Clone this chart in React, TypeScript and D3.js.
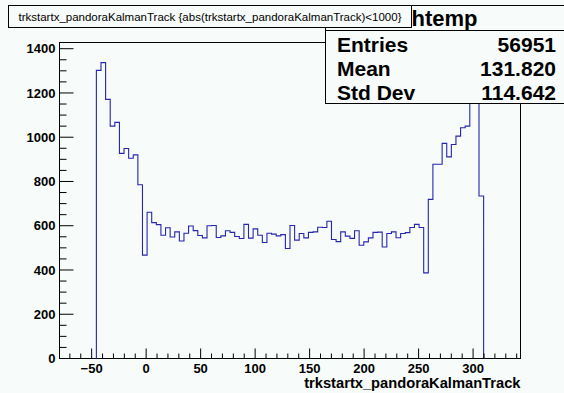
import React from "react";
import * as d3 from "d3";

// Histogram axis (100 bins across the frame, as ROOT's htemp)
const axisMin = -79.5;
const axisMax = 343.5;
const nBins = 100;
const firstFilledBin = 8;
// counts for bins 8..91 (all other bins empty)
const counts = [
  1302, 1337, 1171, 1050, 1067, 927, 949, 905, 920, 785,
  467, 661, 614, 605, 557, 591, 549, 572, 531, 566,
  599, 578, 556, 545, 600, 601, 547, 554, 577, 570,
  551, 542, 606, 544, 586, 557, 524, 566, 562, 554,
  560, 497, 601, 535, 565, 545, 570, 572, 593, 592,
  620, 538, 528, 572, 553, 543, 577, 512, 527, 545,
  570, 571, 504, 565, 572, 546, 565, 569, 592, 606,
  592, 387, 719, 878, 878, 972, 911, 967, 1005, 1043,
  1050, 1200, 1365, 734,
];
const yMaxValue = 1428;

const xMajorTicks = [-50, 0, 50, 100, 150, 200, 250, 300];
const xTickLabels = ["\u221250", "0", "50", "100", "150", "200", "250", "300"];
const yMajorTicks = [0, 200, 400, 600, 800, 1000, 1200, 1400];

const titleText = "trkstartx_pandoraKalmanTrack {abs(trkstartx_pandoraKalmanTrack)<1000}";
const histName = "htemp";
const statNames = ["Entries", "Mean", "Std Dev"];
const statValues = ["56951", "131.820", "114.642"];
const xAxisTitle = "trkstartx_pandoraKalmanTrack";

const W = 564;
const H = 393;
const BG = "#f7fbf9";
const LINE = "#2626b0";
const FONT = "'Liberation Sans', Arial, Helvetica, sans-serif";

export default function App() {
  const fl = 59.5, fr = 520.5, ft = 42.5, fb = 358.5;
  const x = d3.scaleLinear().domain([axisMin, axisMax]).range([fl, fr]);
  const y = d3.scaleLinear().domain([0, yMaxValue]).range([fb, ft]);
  const bw = (axisMax - axisMin) / nBins;
  const edge = (i: number) => axisMin + i * bw;

  // step outline
  const pts: [number, number][] = [];
  pts.push([x(edge(firstFilledBin)), y(0)]);
  counts.forEach((c, k) => {
    const i = firstFilledBin + k;
    pts.push([x(edge(i)), y(c)]);
    pts.push([x(edge(i + 1)), y(c)]);
  });
  pts.push([x(edge(firstFilledBin + counts.length)), y(0)]);
  const path = d3.line()(pts) || "";

  const xMinor = d3.range(-70, 341, 10).filter((v) => v % 50 !== 0);
  const yMinor = d3.range(50, yMaxValue, 50).filter((v) => v % 200 !== 0);

  return (
    <svg
      width={W}
      height={H}
      style={{ position: "absolute", left: 0, top: 0, background: BG }}
      fontFamily={FONT}
    >
      <rect x={0} y={0} width={W} height={H} fill={BG} />
      {/* frame */}
      <rect x={fl} y={ft} width={fr - fl} height={fb - ft} fill={BG} stroke="#000" strokeWidth={1} />

      {/* histogram */}
      <path d={path} fill="none" stroke={LINE} strokeWidth={1.1} />

      {/* x ticks */}
      {xMajorTicks.map((v) => (
        <line key={"xM" + v} x1={x(v)} x2={x(v)} y1={fb} y2={fb - 10} stroke="#000" />
      ))}
      {xMinor.map((v) => (
        <line key={"xm" + v} x1={x(v)} x2={x(v)} y1={fb} y2={fb - 5} stroke="#000" />
      ))}
      {xMajorTicks.map((v, i) => (
        <text key={"xl" + v} x={x(v)} y={373} textAnchor="middle" fontSize={13} fontWeight="bold">
          {xTickLabels[i]}
        </text>
      ))}

      {/* y ticks */}
      {yMajorTicks.map((v) => (
        <line key={"yM" + v} x1={fl} x2={fl + 14} y1={y(v)} y2={y(v)} stroke="#000" />
      ))}
      {yMinor.map((v) => (
        <line key={"ym" + v} x1={fl} x2={fl + 7} y1={y(v)} y2={y(v)} stroke="#000" />
      ))}
      {yMajorTicks.map((v) => (
        <text key={"yl" + v} x={55.5} y={y(v)} dy="0.36em" textAnchor="end" fontSize={13} fontWeight="bold">
          {v}
        </text>
      ))}

      {/* axis title */}
      <text x={fr} y={388} textAnchor="end" fontSize={14.7} fontWeight="bold">
        {xAxisTitle}
      </text>

      {/* stats box */}
      <rect x={325.5} y={5.5} width={250} height={98} fill={BG} stroke="#000" strokeWidth={1} />
      <line x1={325.5} x2={W} y1={30.5} y2={30.5} stroke="#000" />
      <text x={444.5} y={25.5} textAnchor="middle" fontSize={22} fontWeight="bold">
        {histName}
      </text>
      {statNames.map((n, i) => (
        <g key={n}>
          <text x={337} y={51.5 + i * 24} fontSize={21} fontWeight="bold">{n}</text>
          <text x={556} y={51.5 + i * 24} textAnchor="end" fontSize={21} fontWeight="bold">
            {statValues[i]}
          </text>
        </g>
      ))}

      {/* title box */}
      <rect x={8.5} y={5.5} width={403} height={22} fill={BG} stroke="#000" strokeWidth={1} />
      <text x={210} y={20.5} textAnchor="middle" fontSize={11.5}>
        {titleText}
      </text>
    </svg>
  );
}
